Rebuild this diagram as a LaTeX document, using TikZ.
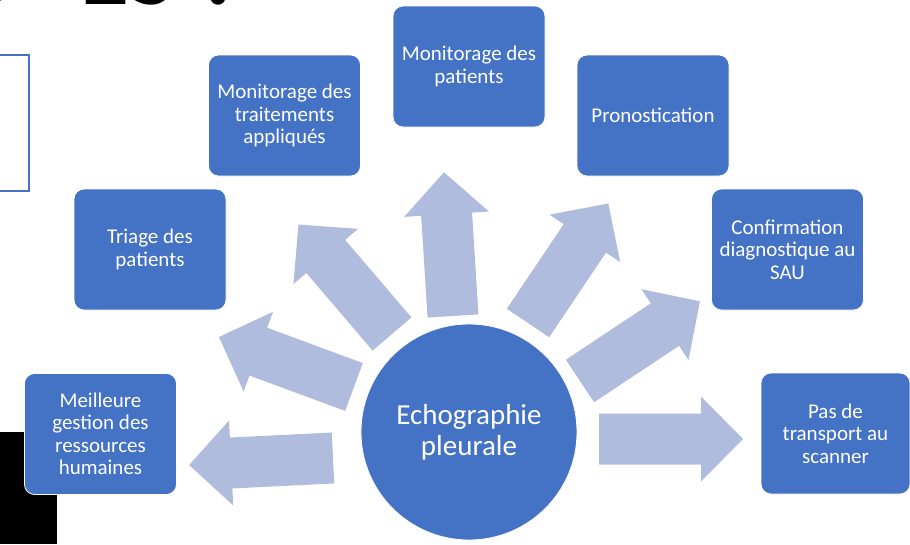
\documentclass[tikz,border=0pt]{standalone}
\usepackage{fontspec}
\setmainfont{Carlito}
\definecolor{boxblue}{HTML}{4472C4}
\definecolor{arrowblue}{RGB}{176,188,222}
\begin{document}
\begin{tikzpicture}[x=1pt,y=-1pt,
  box/.style={draw=white, line width=0.8pt, fill=boxblue, rounded corners=10pt,
    text=white, font=\fontsize{21}{22.5}\selectfont, align=center, inner sep=0pt,
    minimum width=152pt, minimum height=121pt},
  hub/.style={circle, draw=white, line width=0.8pt, fill=boxblue, text=white,
    font=\fontsize{29}{31}\selectfont, align=center, minimum size=216pt, inner sep=0pt},
  titletext/.style={font=\fontsize{100}{100}\selectfont\bfseries, text=black, inner sep=0pt},
  radarrow/.pic={\fill[arrowblue] (0,-25.5) -- (102,-25.5) -- (102,-42.5) -- (144,0)
    -- (102,42.5) -- (102,25.5) -- (0,25.5) -- cycle;}
]
\useasboundingbox (0,0) rectangle (910,544);
\clip (0,0) rectangle (910,544);

% cropped title fragments
\node[titletext, anchor=base east] (tA) at (20,4) {D};
\node[titletext, anchor=base west] (tB) at (80,4) {ES ?};

% cropped outline frame and black block
\draw[boxblue, line width=2pt] (-20,55) rectangle (29,191);
\fill[black] (0,432) rectangle (57,544);

% arrows
\coordinate (t1) at (333,458);
\coordinate (t2) at (354,387);
\coordinate (t3) at (392,334);
\coordinate (t4) at (453,316);
\coordinate (t5) at (528,323);
\coordinate (t6) at (580,381);
\coordinate (t7) at (599,439);
\pic[rotate=182.8] at (t1) {radarrow};
\pic[rotate=159.7] at (t2) {radarrow};
\pic[rotate=130.5] at (t3) {radarrow};
\pic[rotate=93.6] at (t4) {radarrow};
\pic[rotate=56.1] at (t5) {radarrow};
\pic[rotate=33.6] at (t6) {radarrow};
\pic[rotate=0] at (t7) {radarrow};

% hub
\node[hub] (hub) at (469,432) {Echographie\\pleurale};

% boxes
\node[box] (b1) at (100.5,434) {Meilleure\\gestion des\\ressources\\humaines};
\node[box] (b2) at (150,249.5) {Triage des\\patients};
\node[box] (b3) at (284.5,115.5) {Monitorage des\\traitements\\appliqués};
\node[box] (b4) at (469,66.5) {Monitorage des\\patients};
\node[box] (b5) at (653,115.5) {Pronostication};
\node[box] (b6) at (787.5,249.5) {Confirmation\\diagnostique au\\SAU};
\node[box, minimum width=149pt] (b7) at (835.5,433.5) {Pas de\\transport au\\scanner};
\end{tikzpicture}
\end{document}
